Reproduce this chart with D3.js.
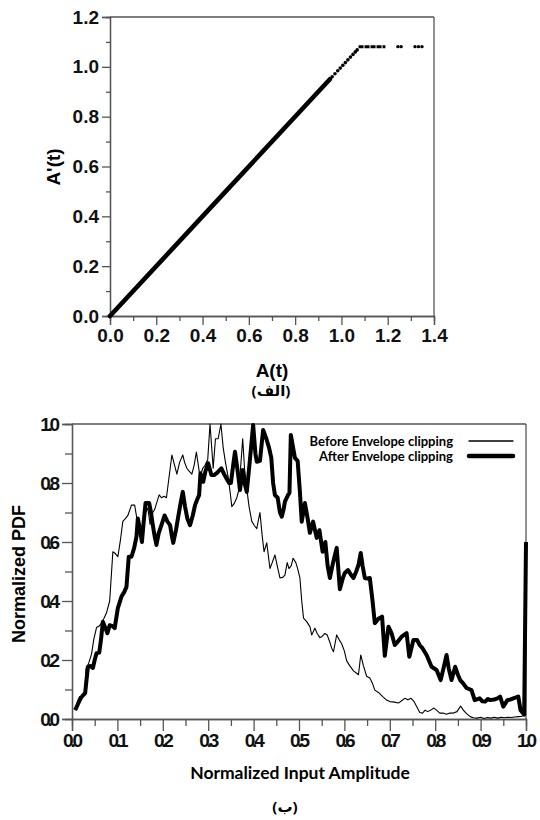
<!DOCTYPE html>
<html><head><meta charset="utf-8">
<script src="https://cdn.jsdelivr.net/npm/d3@7"></script>
<style>body{margin:0;background:#fff} svg{display:block}</style>
</head><body>
<svg id="c" width="540" height="820"></svg>
<script>
// ---------- Top chart data (A(t) -> A'(t)) ----------
const topXTicks = [0.0, 0.2, 0.4, 0.6, 0.8, 1.0, 1.2, 1.4];
const topYTicks = [0.0, 0.2, 0.4, 0.6, 0.8, 1.0, 1.2];
const denseIn  = [0.0, 0.5, 0.95];
const denseOut = [0.0, 0.5, 0.95];
const dotIn  = [0.96, 0.972, 0.984, 0.995, 1.006, 1.017, 1.028, 1.039, 1.05, 1.06, 1.068];
const dotOut = [0.96, 0.972, 0.984, 0.995, 1.006, 1.017, 1.028, 1.039, 1.05, 1.06, 1.068];
const flatIn  = [1.074, 1.19];
const flatOut = [1.081, 1.081];
const sparseIn  = [1.244, 1.258, 1.318, 1.333, 1.348];
const sparseOut = [1.081, 1.081, 1.081, 1.081, 1.081];

// ---------- Bottom chart data (PDF) ----------
const botXTicks = [0.0,0.1,0.2,0.3,0.4,0.5,0.6,0.7,0.8,0.9,1.0];
const botYTicks = [0.0,0.2,0.4,0.6,0.8,1.0];
const beforeX = [0.007,0.012,0.017,0.024,0.028,0.031,0.037,0.043,0.048,0.054,0.060,0.065,0.070,0.076,0.083,0.090,0.096,0.101,0.107,0.112,0.118,0.123,0.131,0.138,0.145,0.150,0.156,0.162,0.167,0.172,0.178,0.182,0.187,0.192,0.197,0.203,0.208,0.220,0.226,0.231,0.237,0.244,0.248,0.253,0.258,0.264,0.269,0.274,0.282,0.288,0.293,0.299,0.304,0.311,0.316,0.322,0.328,0.333,0.338,0.344,0.349,0.352,0.357,0.363,0.368,0.376,0.380,0.385,0.390,0.396,0.402,0.407,0.410,0.414,0.419,0.423,0.429,0.436,0.441,0.447,0.452,0.458,0.464,0.469,0.474,0.478,0.483,0.487,0.493,0.497,0.502,0.506,0.510,0.517,0.524,0.528,0.535,0.540,0.546,0.551,0.557,0.562,0.568,0.572,0.576,0.583,0.588,0.594,0.600,0.605,0.612,0.620,0.627,0.631,0.636,0.642,0.649,0.656,0.662,0.667,0.675,0.685,0.693,0.700,0.707,0.719,0.726,0.733,0.740,0.747,0.753,0.760,0.766,0.772,0.778,0.783,0.790,0.797,0.803,0.810,0.817,0.825,0.832,0.840,0.848,0.856,0.862,0.869,0.877,0.884,0.892,0.900,0.908,0.915,0.923,0.930,0.938,0.945,0.953,0.960,0.968,0.975,0.983,0.990,0.998];
const beforeY = [0.03,0.06,0.076,0.075,0.08,0.17,0.19,0.22,0.27,0.31,0.315,0.325,0.34,0.36,0.40,0.567,0.56,0.55,0.61,0.67,0.68,0.69,0.725,0.725,0.66,0.655,0.645,0.70,0.715,0.66,0.70,0.71,0.735,0.76,0.75,0.755,0.75,0.895,0.86,0.83,0.87,0.895,0.87,0.85,0.84,0.83,0.86,0.905,0.82,0.85,0.86,0.88,1.0,0.85,0.95,0.95,1.0,0.92,0.87,0.82,0.76,0.72,0.73,0.75,0.78,0.95,0.85,0.78,0.72,0.67,0.655,0.645,0.67,0.70,0.62,0.567,0.597,0.51,0.53,0.556,0.52,0.478,0.48,0.488,0.53,0.51,0.52,0.545,0.53,0.51,0.478,0.40,0.342,0.33,0.313,0.285,0.308,0.29,0.276,0.28,0.29,0.285,0.26,0.24,0.228,0.285,0.27,0.255,0.23,0.197,0.18,0.163,0.155,0.15,0.217,0.18,0.145,0.139,0.12,0.098,0.09,0.075,0.064,0.059,0.058,0.054,0.062,0.07,0.065,0.07,0.06,0.04,0.022,0.02,0.03,0.025,0.03,0.037,0.03,0.02,0.02,0.016,0.02,0.02,0.025,0.044,0.03,0.018,0.008,0.004,0.003,0.006,0.002,0.005,0.003,0.006,0.003,0.006,0.004,0.006,0.005,0.007,0.008,0.009,0.013];
const afterX = [0.007,0.013,0.019,0.024,0.029,0.035,0.041,0.046,0.050,0.054,0.060,0.064,0.068,0.073,0.078,0.083,0.089,0.094,0.101,0.109,0.115,0.120,0.125,0.131,0.137,0.142,0.145,0.150,0.154,0.158,0.162,0.170,0.174,0.178,0.182,0.186,0.191,0.197,0.204,0.210,0.216,0.220,0.223,0.229,0.234,0.239,0.244,0.249,0.254,0.260,0.266,0.271,0.276,0.280,0.283,0.289,0.294,0.300,0.307,0.313,0.320,0.329,0.335,0.340,0.346,0.350,0.355,0.359,0.365,0.370,0.376,0.380,0.385,0.392,0.399,0.404,0.407,0.414,0.421,0.428,0.434,0.439,0.443,0.447,0.453,0.458,0.462,0.466,0.469,0.476,0.479,0.482,0.487,0.491,0.497,0.502,0.506,0.513,0.519,0.524,0.531,0.539,0.545,0.552,0.558,0.563,0.568,0.575,0.583,0.590,0.597,0.601,0.608,0.614,0.620,0.626,0.631,0.636,0.640,0.645,0.650,0.656,0.662,0.667,0.675,0.683,0.689,0.697,0.704,0.711,0.719,0.726,0.737,0.743,0.752,0.760,0.766,0.772,0.781,0.792,0.803,0.812,0.818,0.825,0.830,0.836,0.844,0.850,0.855,0.862,0.869,0.880,0.887,0.898,0.904,0.910,0.916,0.921,0.930,0.937,0.943,0.950,0.959,0.966,0.972,0.978,0.983,0.988,0.996,1.0];
const afterY = [0.03,0.05,0.07,0.08,0.088,0.177,0.18,0.173,0.20,0.223,0.225,0.27,0.33,0.31,0.291,0.318,0.315,0.308,0.376,0.415,0.43,0.448,0.55,0.55,0.58,0.618,0.68,0.64,0.60,0.67,0.732,0.732,0.70,0.657,0.62,0.59,0.63,0.657,0.69,0.67,0.657,0.62,0.597,0.64,0.686,0.73,0.77,0.72,0.68,0.657,0.69,0.725,0.745,0.759,0.833,0.804,0.84,0.867,0.827,0.827,0.835,0.85,0.83,0.816,0.80,0.80,0.86,0.906,0.84,0.776,0.844,0.80,0.77,0.88,0.997,0.90,0.872,0.875,0.98,0.95,0.92,0.885,0.80,0.759,0.75,0.70,0.686,0.71,0.737,0.76,0.766,0.963,0.92,0.885,0.875,0.77,0.669,0.732,0.68,0.631,0.669,0.614,0.64,0.567,0.60,0.52,0.478,0.53,0.58,0.44,0.48,0.495,0.505,0.49,0.478,0.50,0.522,0.563,0.52,0.478,0.476,0.478,0.40,0.325,0.34,0.347,0.214,0.313,0.29,0.251,0.265,0.279,0.291,0.211,0.268,0.268,0.25,0.24,0.217,0.177,0.166,0.132,0.17,0.217,0.17,0.132,0.177,0.15,0.132,0.12,0.105,0.098,0.064,0.07,0.06,0.059,0.068,0.064,0.066,0.07,0.076,0.042,0.064,0.066,0.07,0.073,0.076,0.03,0.015,0.6];
const legendLabels = ["Before Envelope clipping", "After Envelope clipping"];

const AX = "#555";
const svg = d3.select("#c");

function styleAxis(g){
  g.select(".domain").attr("stroke", AX).attr("stroke-width", 1.3);
  g.selectAll(".tick line").attr("stroke", AX).attr("stroke-width", 1.3);
}

// ================= TOP CHART =================
const x1 = d3.scaleLinear().domain([0, 1.4]).range([110, 434]);
const y1 = d3.scaleLinear().domain([0, 1.2]).range([316, 17]);
const gTop = svg.append("g");

gTop.append("line").attr("x1", x1(0)).attr("x2", x1(1.4)).attr("y1", y1(1.2)).attr("y2", y1(1.2)).attr("stroke", AX).attr("stroke-width", 1.3);
gTop.append("line").attr("x1", x1(1.4)).attr("x2", x1(1.4)).attr("y1", y1(0)).attr("y2", y1(1.2)).attr("stroke", AX).attr("stroke-width", 1.3);

const topXMinor = topXTicks.slice(0, -1).map(d => +(d + 0.1).toFixed(1));
const topYMinor = topYTicks.slice(0, -1).map(d => +(d + 0.1).toFixed(1));

const gx1m = gTop.append("g").attr("transform", `translate(0,${y1(0)})`)
  .call(d3.axisBottom(x1).tickValues(topXMinor).tickSize(5).tickFormat(""));
styleAxis(gx1m);
const gx1 = gTop.append("g").attr("transform", `translate(0,${y1(0)})`)
  .call(d3.axisBottom(x1).tickValues(topXTicks).tickSize(9).tickPadding(4).tickFormat(d3.format(".1f")));
styleAxis(gx1);
gx1.selectAll("text").attr("font-family", "Liberation Sans, Arial, sans-serif").attr("font-weight", "bold").attr("font-size", 19).attr("fill", "#111");

const gy1m = gTop.append("g").attr("transform", `translate(${x1(0)},0)`)
  .call(d3.axisLeft(y1).tickValues(topYMinor).tickSize(4).tickFormat(""));
styleAxis(gy1m);
const gy1 = gTop.append("g").attr("transform", `translate(${x1(0)},0)`)
  .call(d3.axisLeft(y1).tickValues(topYTicks).tickSize(8).tickPadding(3).tickFormat(d3.format(".1f")));
styleAxis(gy1);
gy1.selectAll("text").attr("font-family", "Liberation Sans, Arial, sans-serif").attr("font-weight", "bold").attr("font-size", 19).attr("fill", "#111");

const line1 = d3.line().x(d => x1(d[0])).y(d => y1(d[1]));
gTop.append("path").datum(d3.zip(denseIn, denseOut)).attr("d", line1)
  .attr("fill", "none").attr("stroke", "#000").attr("stroke-width", 4.6).attr("stroke-linecap", "round");
gTop.selectAll(".dotc").data(d3.zip(dotIn, dotOut)).join("circle")
  .attr("cx", d => x1(d[0])).attr("cy", d => y1(d[1])).attr("r", 1.8).attr("fill", "#000");
gTop.append("path").datum(d3.zip(flatIn, flatOut)).attr("d", line1)
  .attr("fill", "none").attr("stroke", "#000").attr("stroke-width", 3).attr("stroke-dasharray", "5,1");
gTop.selectAll(".sp").data(d3.zip(sparseIn, sparseOut)).join("circle")
  .attr("cx", d => x1(d[0])).attr("cy", d => y1(d[1])).attr("r", 1.7).attr("fill", "#000");

gTop.append("text").attr("x", 272).attr("y", 377).attr("text-anchor", "middle")
  .attr("font-family", "Liberation Sans, Arial, sans-serif").attr("font-weight", "bold").attr("font-size", 19).text("A(t)");
gTop.append("text").attr("transform", `translate(60,167) rotate(-90)`).attr("text-anchor", "middle")
  .attr("font-family", "Liberation Sans, Arial, sans-serif").attr("font-weight", "bold").attr("font-size", 19).text("A'(t)");
gTop.append("text").attr("x", 271).attr("y", 396).attr("text-anchor", "middle")
  .attr("font-family", "Noto Sans, DejaVu Sans, sans-serif").attr("font-weight", "bold").attr("font-size", 15).text("(الف)");

// ================= BOTTOM CHART =================
const x2 = d3.scaleLinear().domain([0, 1]).range([72, 526]);
const y2 = d3.scaleLinear().domain([0, 1]).range([719, 424]);
const gBot = svg.append("g");

gBot.append("line").attr("x1", x2(0)).attr("x2", x2(1)).attr("y1", y2(1)).attr("y2", y2(1)).attr("stroke", AX).attr("stroke-width", 1.3);
gBot.append("line").attr("x1", x2(1)).attr("x2", x2(1)).attr("y1", y2(0)).attr("y2", y2(1)).attr("stroke", AX).attr("stroke-width", 1.3);

const botXMinor = botXTicks.slice(0, -1).map(d => +(d + 0.05).toFixed(2));
const botYMinor = botYTicks.slice(0, -1).map(d => +(d + 0.1).toFixed(1));

const gx2m = gBot.append("g").attr("transform", `translate(0,${y2(0)})`)
  .call(d3.axisBottom(x2).tickValues(botXMinor).tickSize(7).tickFormat(""));
styleAxis(gx2m);
const gx2 = gBot.append("g").attr("transform", `translate(0,${y2(0)})`)
  .call(d3.axisBottom(x2).tickValues(botXTicks).tickSize(12).tickPadding(3).tickFormat(d3.format(".1f")));
styleAxis(gx2);
gx2.selectAll("text").attr("font-family", "Liberation Sans, Arial, sans-serif").attr("font-weight", "bold")
  .attr("font-size", 19).attr("letter-spacing", "-3.2px").attr("fill", "#111").attr("dx", "-1");

const gy2m = gBot.append("g").attr("transform", `translate(${x2(0)},0)`)
  .call(d3.axisLeft(y2).tickValues(botYMinor).tickSize(7).tickFormat(""));
styleAxis(gy2m);
const gy2 = gBot.append("g").attr("transform", `translate(${x2(0)},0)`)
  .call(d3.axisLeft(y2).tickValues(botYTicks).tickSize(10).tickPadding(5).tickFormat(d3.format(".1f")));
styleAxis(gy2);
gy2.selectAll("text").attr("font-family", "Liberation Sans, Arial, sans-serif").attr("font-weight", "bold")
  .attr("font-size", 19).attr("letter-spacing", "-3.2px").attr("fill", "#111");

const line2 = d3.line().x(d => x2(d[0])).y(d => y2(d[1]));
gBot.append("path").datum(d3.zip(beforeX, beforeY)).attr("d", line2)
  .attr("fill", "none").attr("stroke", "#000").attr("stroke-width", 1.1).attr("stroke-linejoin", "round");
gBot.append("path").datum(d3.zip(afterX, afterY)).attr("d", line2)
  .attr("fill", "none").attr("stroke", "#000").attr("stroke-width", 4).attr("stroke-linejoin", "round");

// legend
const lg = gBot.append("g");
legendLabels.forEach((t, i) => {
  const yy = 441 + i * 15;
  lg.append("text").attr("x", 453).attr("y", yy + 4.5).attr("text-anchor", "end")
    .attr("font-family", "Lato, Open Sans, sans-serif").attr("font-weight", "bold").attr("font-size", 13).text(t);
  lg.append("line").attr("x1", 469).attr("x2", 513).attr("y1", yy).attr("y2", yy)
    .attr("stroke", "#000").attr("stroke-width", i === 0 ? 1.3 : 4.5).attr("stroke-linecap", "round");
});

gBot.append("text").attr("x", 300).attr("y", 779).attr("text-anchor", "middle")
  .attr("font-family", "Lato, Open Sans, sans-serif").attr("font-weight", "bold").attr("font-size", 17.5).text("Normalized Input Amplitude");
gBot.append("text").attr("transform", `translate(25,574) rotate(-90)`).attr("text-anchor", "middle")
  .attr("font-family", "Liberation Sans, Arial, sans-serif").attr("font-weight", "bold").attr("font-size", 18).text("Normalized PDF");
gBot.append("text").attr("x", 285).attr("y", 812).attr("text-anchor", "middle")
  .attr("font-family", "Noto Sans, DejaVu Sans, sans-serif").attr("font-weight", "bold").attr("font-size", 15).text("(ب)");
</script>
</body></html>
